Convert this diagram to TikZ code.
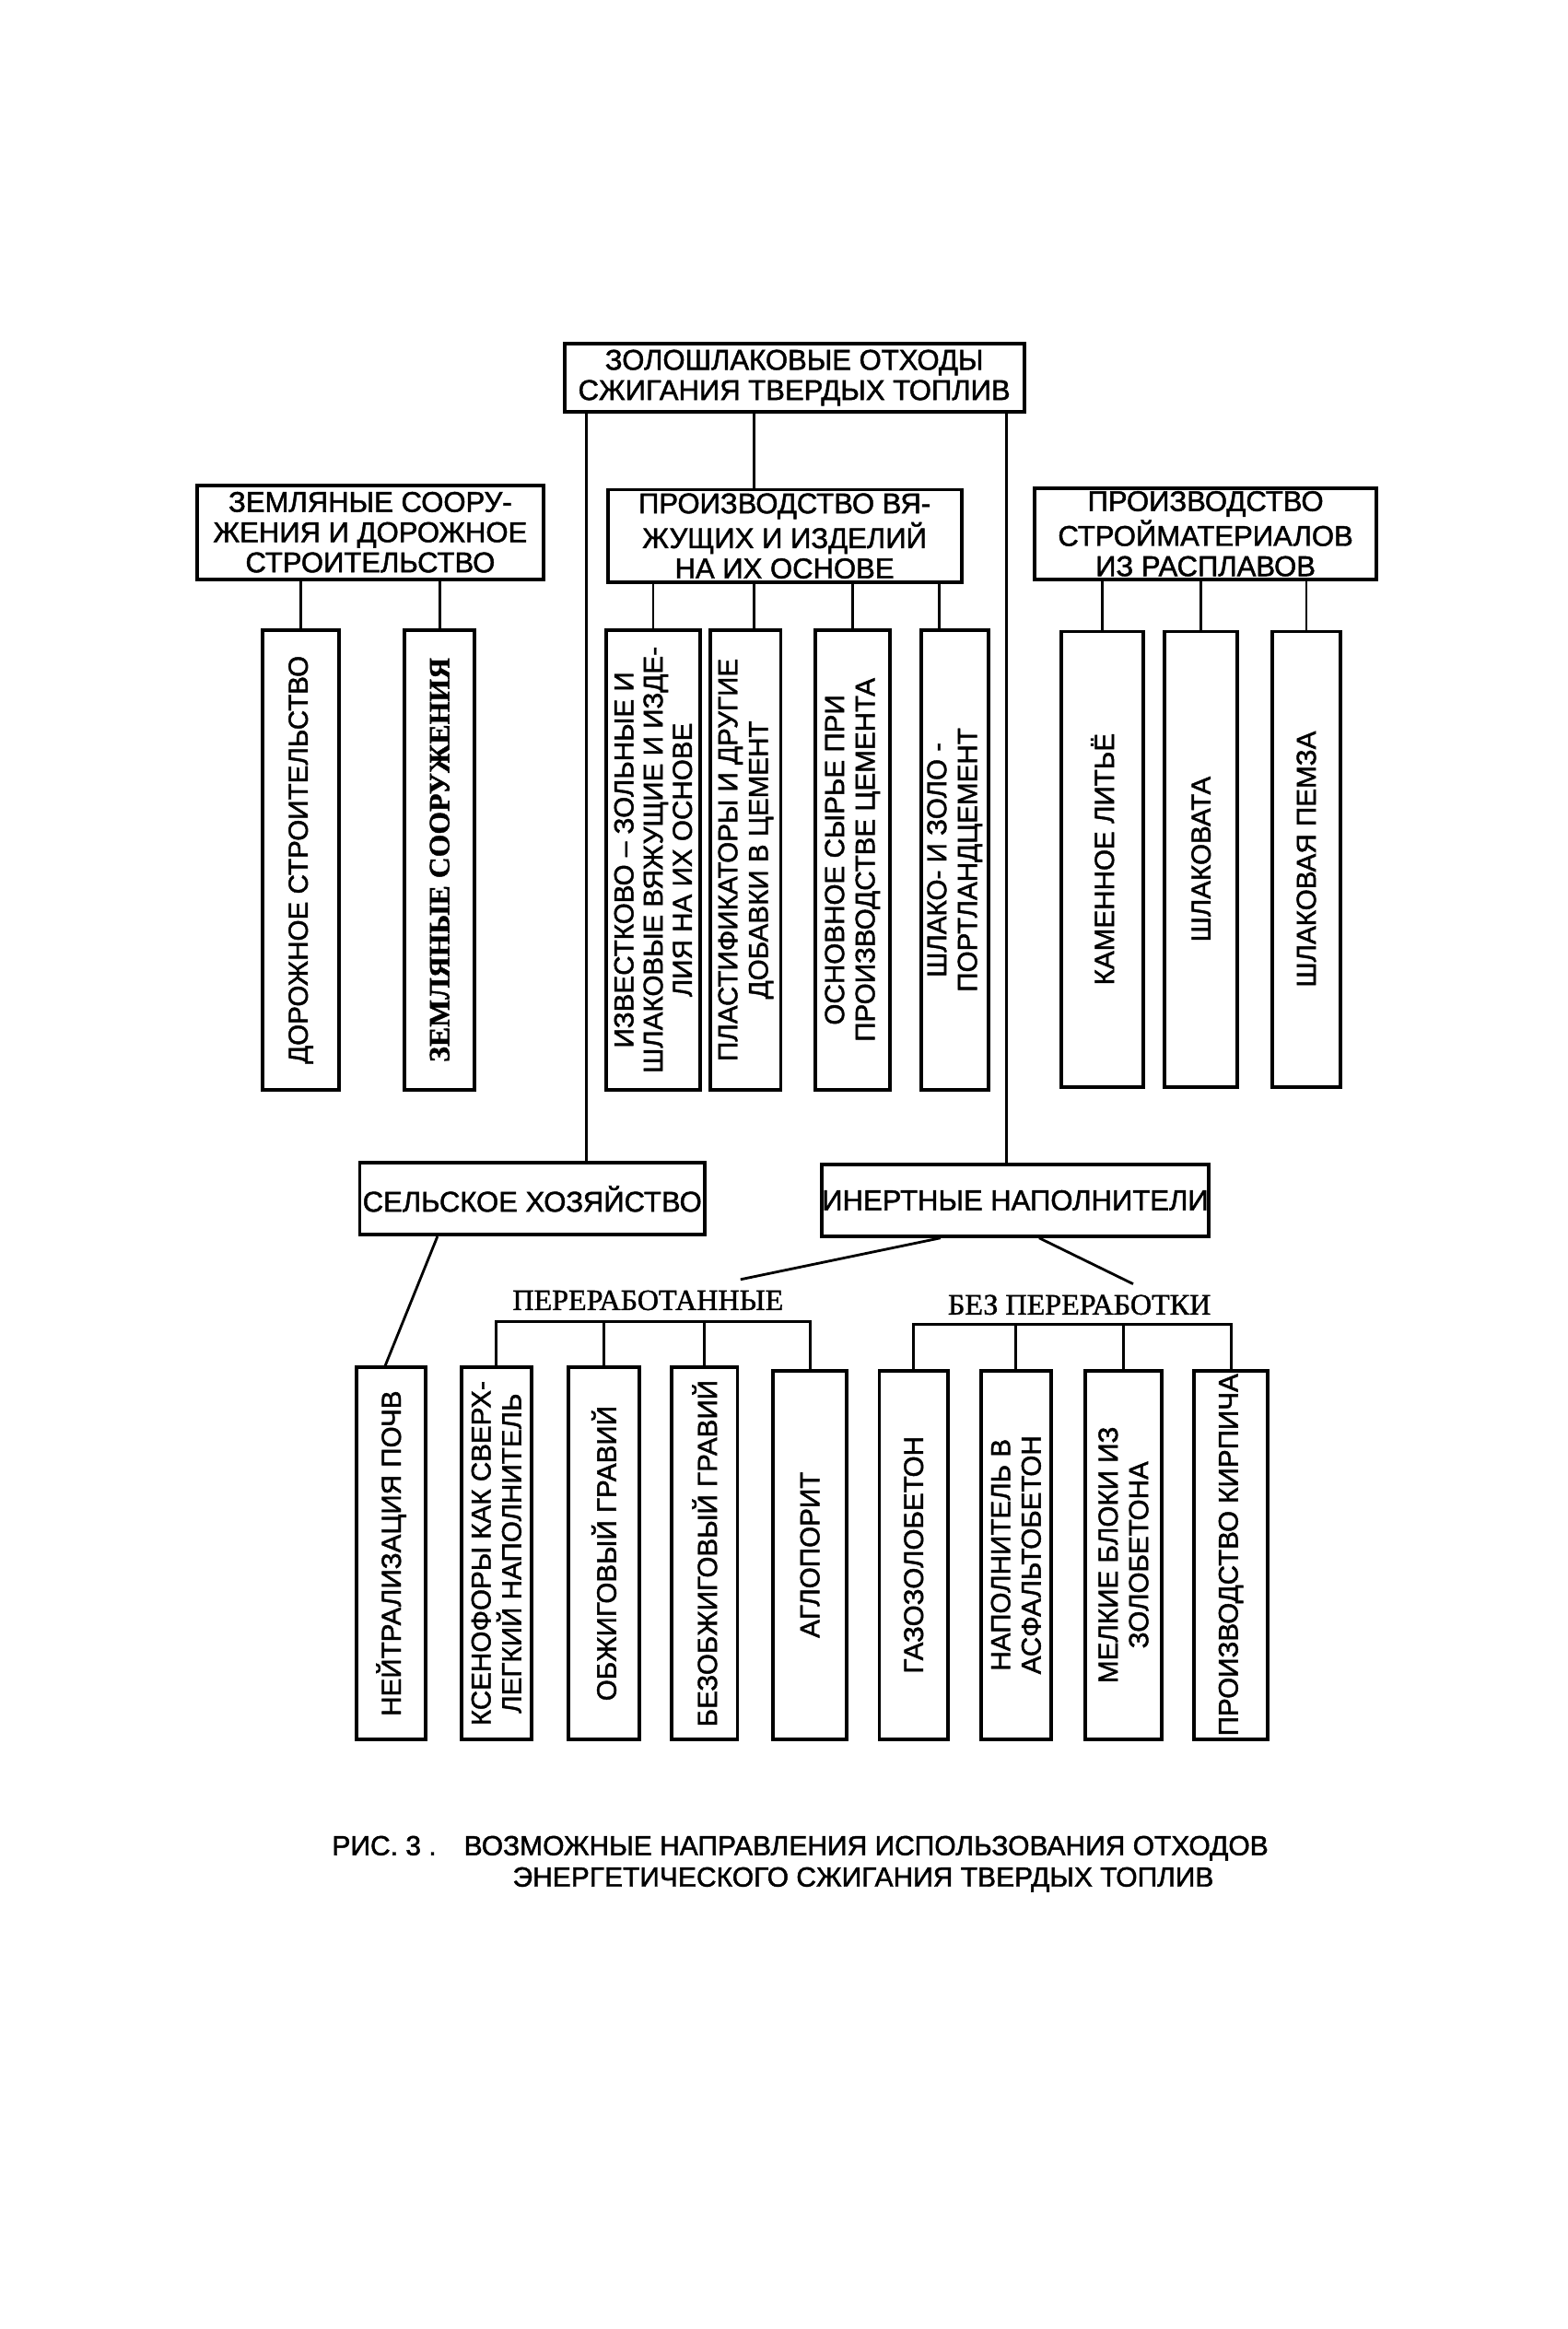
\documentclass[tikz,border=0pt]{standalone}
\usepackage{fontspec}
\setmainfont{Liberation Sans}[FakeBold=1.5]
\newfontfamily\heavyserif{Liberation Serif}[FakeBold=1.2]
\newfontfamily\typeserif{Liberation Serif}[FakeBold=1.2]

\def\px{0.4592pt}

\tikzset{hbox/.style = {shape = rectangle,
                        draw,
                        line width = 1.1pt,
                        inner sep = 0pt,
                        align = center,
                        font = \fontsize{8.8}{9.3}\selectfont}}
\tikzset{vbox/.style = {hbox,
                        rotate = 90,
                        font = \fontsize{8.4}{9.4}\selectfont}}
\tikzset{tag/.style = {inner sep = 0pt,
                       font = \typeserif\fontsize{9.1}{9}\selectfont}}
\tikzset{link/.style = {line width = 0.8pt}}

\begin{document}
\begin{tikzpicture}[x=\px, y=-\px]
	\useasboundingbox (0,0) rectangle (1050,1560);
	% root
	\node[hbox, minimum width=308*\px, minimum height=46*\px] (top) at (532,253) {ЗОЛОШЛАКОВЫЕ ОТХОДЫ\\СЖИГАНИЯ ТВЕРДЫХ ТОПЛИВ};
	% second row
	\node[hbox, minimum width=232*\px, minimum height=63*\px] (earth) at (248,356.5) {ЗЕМЛЯНЫЕ СООРУ-\\ЖЕНИЯ И ДОРОЖНОЕ\\СТРОИТЕЛЬСТВО};
	\node[hbox, minimum width=237*\px, minimum height=62*\px] (binder) at (525.5,359) {ПРОИЗВОДСТВО ВЯ-\\ЖУЩИХ И ИЗДЕЛИЙ\\НА ИХ ОСНОВЕ};
	\node[hbox, minimum width=229*\px, minimum height=61*\px] (melt) at (807.5,357.5) {ПРОИЗВОДСТВО\\СТРОЙМАТЕРИАЛОВ\\ИЗ РАСПЛАВОВ};
	% third row
	\node[vbox, minimum width=308*\px, minimum height=51*\px] (road) at (201.5,576) {ДОРОЖНОЕ СТРОИТЕЛЬСТВО};
	\node[vbox, minimum width=308*\px, minimum height=47*\px, font=\heavyserif\bfseries\fontsize{9}{9.4}\selectfont] (earthw) at (294.5,576) {ЗЕМЛЯНЫЕ СООРУЖЕНИЯ};
	\node[vbox, minimum width=308*\px, minimum height=63*\px, font=\fontsize{8.4}{9}\selectfont] (lime) at (437.5,576) {ИЗВЕСТКОВО -- ЗОЛЬНЫЕ И\\ШЛАКОВЫЕ ВЯЖУЩИЕ И ИЗДЕ-\\ЛИЯ НА ИХ ОСНОВЕ};
	\node[vbox, minimum width=308*\px, minimum height=47*\px] (plast) at (499.5,576) {ПЛАСТИФИКАТОРЫ И ДРУГИЕ\\ДОБАВКИ В ЦЕМЕНТ};
	\node[vbox, minimum width=308*\px, minimum height=50*\px] (raw) at (571,576) {ОСНОВНОЕ СЫРЬЕ ПРИ\\ПРОИЗВОДСТВЕ ЦЕМЕНТА};
	\node[vbox, minimum width=308*\px, minimum height=45*\px] (slagc) at (639.5,576) {ШЛАКО- И ЗОЛО -\\ПОРТЛАНДЦЕМЕНТ};
	\node[vbox, minimum width=305*\px, minimum height=55*\px] (stone) at (738.5,575.5) {КАМЕННОЕ ЛИТЬЁ};
	\node[vbox, minimum width=305*\px, minimum height=49*\px] (wool) at (804.5,575.5) {ШЛАКОВАТА};
	\node[vbox, minimum width=305*\px, minimum height=46*\px] (pumice) at (875,575.5) {ШЛАКОВАЯ ПЕМЗА};
	% fourth row
	\node[hbox, minimum width=231*\px, minimum height=48*\px] (agro) at (356.5,803) {СЕЛЬСКОЕ ХОЗЯЙСТВО};
	\node[hbox, minimum width=254*\px, minimum height=48*\px] (inert) at (680,804) {ИНЕРТНЫЕ НАПОЛНИТЕЛИ};
	\node[tag] (proc) at (434,871) {ПЕРЕРАБОТАННЫЕ};
	\node[tag] (noproc) at (723,874) {БЕЗ ПЕРЕРАБОТКИ};
	% fifth row
	\node[vbox, minimum width=249*\px, minimum height=46*\px] (soil) at (262,1040.5) {НЕЙТРАЛИЗАЦИЯ ПОЧВ};
	\node[vbox, minimum width=249*\px, minimum height=47*\px] (xeno) at (332.5,1040.5) {КСЕНОФОРЫ КАК СВЕРХ-\\ЛЕГКИЙ НАПОЛНИТЕЛЬ};
	\node[vbox, minimum width=249*\px, minimum height=47*\px] (fired) at (404.5,1040.5) {ОБЖИГОВЫЙ ГРАВИЙ};
	\node[vbox, minimum width=249*\px, minimum height=44*\px] (unfired) at (472,1040.5) {БЕЗОБЖИГОВЫЙ ГРАВИЙ};
	\node[vbox, minimum width=247*\px, minimum height=49*\px] (aglo) at (542.5,1041.5) {АГЛОПОРИТ};
	\node[vbox, minimum width=247*\px, minimum height=46*\px] (gas) at (612,1041.5) {ГАЗОЗОЛОБЕТОН};
	\node[vbox, minimum width=247*\px, minimum height=47*\px] (asph) at (680.5,1041.5) {НАПОЛНИТЕЛЬ В\\АСФАЛЬТОБЕТОН};
	\node[vbox, minimum width=247*\px, minimum height=51*\px] (block) at (752.5,1041.5) {МЕЛКИЕ БЛОКИ ИЗ\\ЗОЛОБЕТОНА};
	\node[vbox, minimum width=247*\px, minimum height=49*\px] (brick) at (824.5,1041.5) {ПРОИЗВОДСТВО КИРПИЧА};
	% caption
	\node[anchor=west, inner sep=0pt, font=\fontsize{8.5}{9}\selectfont] (cap1) at (222,1238) {РИС. 3 .\hspace{1em}ВОЗМОЖНЫЕ НАПРАВЛЕНИЯ ИСПОЛЬЗОВАНИЯ ОТХОДОВ};
	\node[anchor=west, inner sep=0pt, font=\fontsize{8.5}{9}\selectfont] (cap2) at (343,1259) {ЭНЕРГЕТИЧЕСКОГО СЖИГАНИЯ ТВЕРДЫХ ТОПЛИВ};

	% branch points
	\coordinate (lx) at (393,0);
	\coordinate (mx) at (505,0);
	\coordinate (rx) at (674,0);
	\coordinate (slagx) at (629,0);
	\coordinate (agrox) at (293,0);
	\coordinate (soilx) at (258,0);
	\coordinate (ipx) at (630,0);
	\coordinate (inx) at (696,0);
	\coordinate (procend) at (496,857);
	\coordinate (noprocend) at (759,860);
	\coordinate (procbar) at (0,885);
	\coordinate (noprocbar) at (0,887);

	\draw[link] (top.south -| lx) -- (agro.north -| lx);
	\draw[link] (top.south -| mx) -- (binder.north -| mx);
	\draw[link] (top.south -| rx) -- (inert.north -| rx);
	\foreach \n in {road, earthw}
		\draw[link] (earth.south -| \n.east) -- (\n.east);
	\foreach \n in {lime, raw}
		\draw[link] (binder.south -| \n.east) -- (\n.east);
	\draw[link] (binder.south -| mx) -- (plast.east -| mx);
	\draw[link] (binder.south -| slagx) -- (slagc.east -| slagx);
	\foreach \n in {stone, wool, pumice}
		\draw[link] (melt.south -| \n.east) -- (\n.east);
	\draw[link] (agro.south -| agrox) -- (soil.east -| soilx);
	\draw[link] (inert.south -| ipx) -- (procend);
	\draw[link] (inert.south -| inx) -- (noprocend);
	\draw[link] (xeno.east) -- (xeno.east |- procbar) -- (aglo.east |- procbar) -- (aglo.east);
	\foreach \n in {fired, unfired}
		\draw[link] (\n.east) -- (\n.east |- procbar);
	\draw[link] (gas.east) -- (gas.east |- noprocbar) -- (brick.east |- noprocbar) -- (brick.east);
	\foreach \n in {asph, block}
		\draw[link] (\n.east) -- (\n.east |- noprocbar);
\end{tikzpicture}
\end{document}
